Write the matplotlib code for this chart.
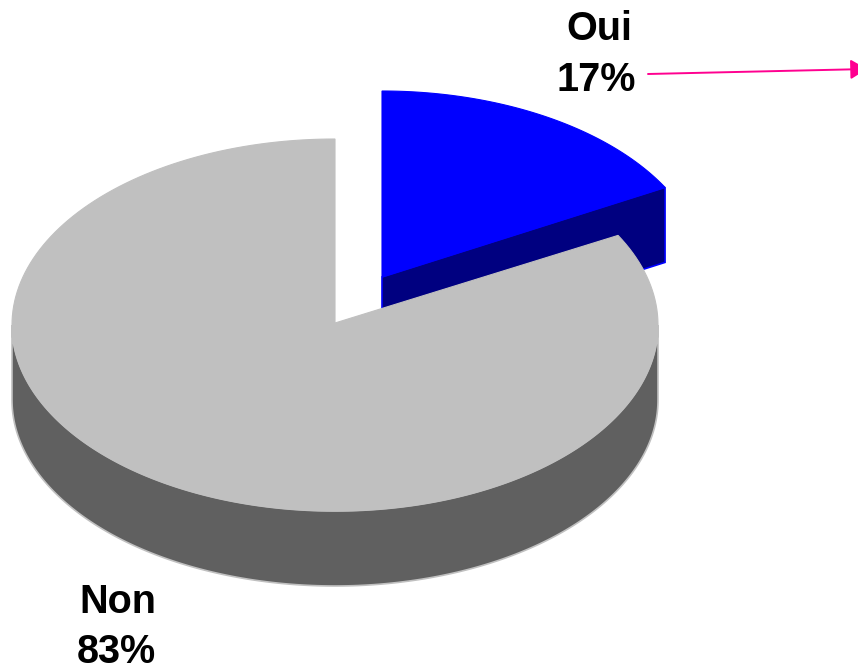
"""
Exploded 3D style pie, Oui / Non, drawn with plain polygons in pixel coordinates
"""

import numpy as np
import matplotlib
matplotlib.use('Agg')
import matplotlib.pyplot as plt
from matplotlib.patches import Polygon

labels = ['Oui', 'Non']
values = [17, 83]

top_colors = ['#0000FF', '#C0C0C0']
side_colors = ['#000080', '#606060']
edge_colors = ['#0000FF', '#C0C0C0']

# geometry of the fake perspective, in pixels
cx, cy = 335, 325
rx, ry = 323, 186
depth = 75
explode = (47, -48)


def rim(start, end, dx=0, dy=0, n=200):
    """Points on the ellipse, angles in degrees clockwise from the top"""
    t = np.radians(np.linspace(start, end, n))
    return np.column_stack([cx + dx + rx * np.sin(t), cy + dy - ry * np.cos(t)])


fig = plt.figure(figsize=(8.58, 6.67), dpi=100)
ax = fig.add_axes([0, 0, 1, 1])
ax.set_xlim(0, 858)
ax.set_ylim(667, 0)
ax.axis('off')

shares = np.array(values) / sum(values) * 360
a_oui = shares[0]

# Non: outer wall first, lower half of the rim only
wall = np.vstack([rim(90, 270), rim(270, 90, dy=depth)])
ax.add_patch(Polygon(wall, closed=True, facecolor=side_colors[1],
                     edgecolor=edge_colors[1], linewidth=1.2, zorder=1))

# Oui: cut face under the slice, then its top
dx, dy = explode
apex = np.array([cx + dx, cy + dy])
tip = rim(a_oui, a_oui, dx, dy, n=1)[0]
face = np.array([apex, tip, tip + [0, depth], apex + [0, depth]])
ax.add_patch(Polygon(face, closed=True, facecolor=side_colors[0],
                     edgecolor=edge_colors[0], linewidth=1.2, zorder=2))
top_oui = np.vstack([apex, rim(0, a_oui, dx, dy)])
ax.add_patch(Polygon(top_oui, closed=True, facecolor=top_colors[0],
                     edgecolor=edge_colors[0], linewidth=0.8, zorder=3))

# Non top goes over the blue cut face
top_non = np.vstack([[cx, cy - 2], rim(a_oui, 360)])
ax.add_patch(Polygon(top_non, closed=True, facecolor=top_colors[1],
                     edgecolor=top_colors[1], linewidth=0.8, zorder=4))

# labels
font = dict(family='Liberation Sans', fontweight='bold', fontsize=28.5,
            color='black', ha='center', va='baseline', zorder=5)
ax.text(599, 40, labels[0], **font)
ax.text(596, 91, f'{values[0]}%', **font)
ax.text(118, 613, labels[1], **font)
ax.text(116, 663, f'{values[1]}%', **font)

# pink arrow leaving the frame on the right
ax.annotate('', xy=(867, 69), xytext=(648, 74), annotation_clip=False,
            arrowprops=dict(arrowstyle='-|>,head_length=0.5,head_width=0.3',
                            color='#FF0090', lw=1.4, mutation_scale=20,
                            shrinkA=0, shrinkB=0), zorder=5)

plt.savefig('out.png', dpi=100)
plt.close()
